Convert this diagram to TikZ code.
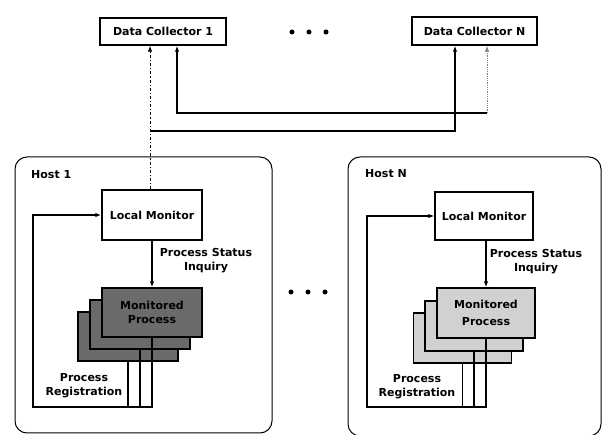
\documentclass[tikz,border=0pt]{standalone}
\usepackage{fontspec}
\setmainfont{DejaVu Sans}
\usetikzlibrary{arrows.meta}
\begin{document}
\begin{tikzpicture}[x=1pt,y=-1pt,
  >={Latex[length=6pt,width=4.5pt]},
  lbl/.style={font=\fontsize{11}{14}\selectfont\bfseries, inner sep=0pt, align=center},
  box/.style={draw, line width=1.4pt, lbl, fill=white},
  hostbox/.style={draw, line width=1pt, rounded corners=12pt, inner sep=0pt},
  darkproc/.style={draw, line width=1.4pt, fill=black!58, minimum width=100pt, minimum height=49pt, lbl},
  lightproc/.style={draw, line width=1.4pt, fill=black!18, minimum width=98pt, minimum height=50pt, lbl},
  conn/.style={line width=1.2pt},
  dotc/.style={circle, fill=black, inner sep=0pt, minimum size=5pt}]
\useasboundingbox (0,0) rectangle (603,435);
% data collectors
\node[box, minimum width=126pt, minimum height=27pt] (dc1) at (163,31.5) {Data Collector 1};
\node[box, minimum width=125pt, minimum height=28pt] (dcN) at (474.5,31) {Data Collector N};
\node[dotc] (t1) at (292,32) {};
\node[dotc] (t2) at (309,32) {};
\node[dotc] (t3) at (326,32) {};
% hosts
\node[hostbox, minimum width=257pt, minimum height=276pt] (host1) at (143.5,295) {};
\node[hostbox, minimum width=253pt, minimum height=279pt] (hostN) at (474.5,296.5) {};
\node[lbl, anchor=west] (h1lbl) at (31,175) {Host 1};
\node[lbl, anchor=west] (hNlbl) at (365,174) {Host N};
\node[dotc] (m1) at (291,292) {};
\node[dotc] (m2) at (308,292) {};
\node[dotc] (m3) at (325,292) {};
% monitors
\node[box, minimum width=100pt, minimum height=50pt] (mon1) at (152,215) {Local Monitor};
\node[box, minimum width=98pt, minimum height=48pt] (monN) at (484,216) {Local Monitor};
% processes host 1
\node[darkproc] (p1c) at (128,336.5) {};
\node[darkproc] (p1b) at (140,324.5) {};
\node[darkproc] (p1a) at (152,312.5) {Monitored\\Process};
% processes host N
\node[lightproc] (pNc) at (462.5,338) {};
\node[lightproc] (pNb) at (474,326) {};
\node[lightproc, font=\fontsize{11}{17}\selectfont\bfseries] (pNa) at (486,313) {Monitored\\Process};
% labels
\node[lbl] (psi1) at (206,261) {Process Status\\Inquiry};
\node[lbl] (psiN) at (536,262) {Process Status\\Inquiry};
\node[lbl] (pr1) at (84,386) {Process\\Registration};
\node[lbl] (prN) at (417,387) {Process\\Registration};
% connections to data collectors
\coordinate (j1) at (150,131);
\coordinate (j1r) at (455,131);
\coordinate (jN) at (487,113);
\coordinate (jNl) at (177,113);
\draw[conn, dash dot, line width=0.8pt, ->] (mon1.north -| j1) -- (dc1.south -| j1);
\draw[conn, ->] (j1) -- (j1r) -- (dcN.south -| j1r);
\draw[conn, ->] (jN) -- (jNl) -- (dc1.south -| jNl);
\draw[line width=0.8pt, densely dotted, gray, ->] (jN) -- (dcN.south -| jN);
% status inquiry
\draw[conn, ->] (p1a.north |- mon1.south) -- (p1a.north);
\draw[conn, ->] (pNa.north |- monN.south) -- (pNa.north);
% registration host 1
\coordinate (r1) at (33,407);
\draw[conn] (p1c.south) -- (p1c.south |- r1);
\draw[conn] (p1b.south) -- (p1b.south |- r1);
\draw[conn, ->] (p1a.south) -- (p1a.south |- r1) -- (r1) -- (r1 |- mon1.west) -- (mon1.west);
% registration host N
\coordinate (rN) at (367,407);
\draw[conn] (pNc.south) -- (pNc.south |- rN);
\draw[conn] (pNb.south) -- (pNb.south |- rN);
\draw[conn, ->] (pNa.south) -- (pNa.south |- rN) -- (rN) -- (rN |- monN.west) -- (monN.west);
\end{tikzpicture}
\end{document}
